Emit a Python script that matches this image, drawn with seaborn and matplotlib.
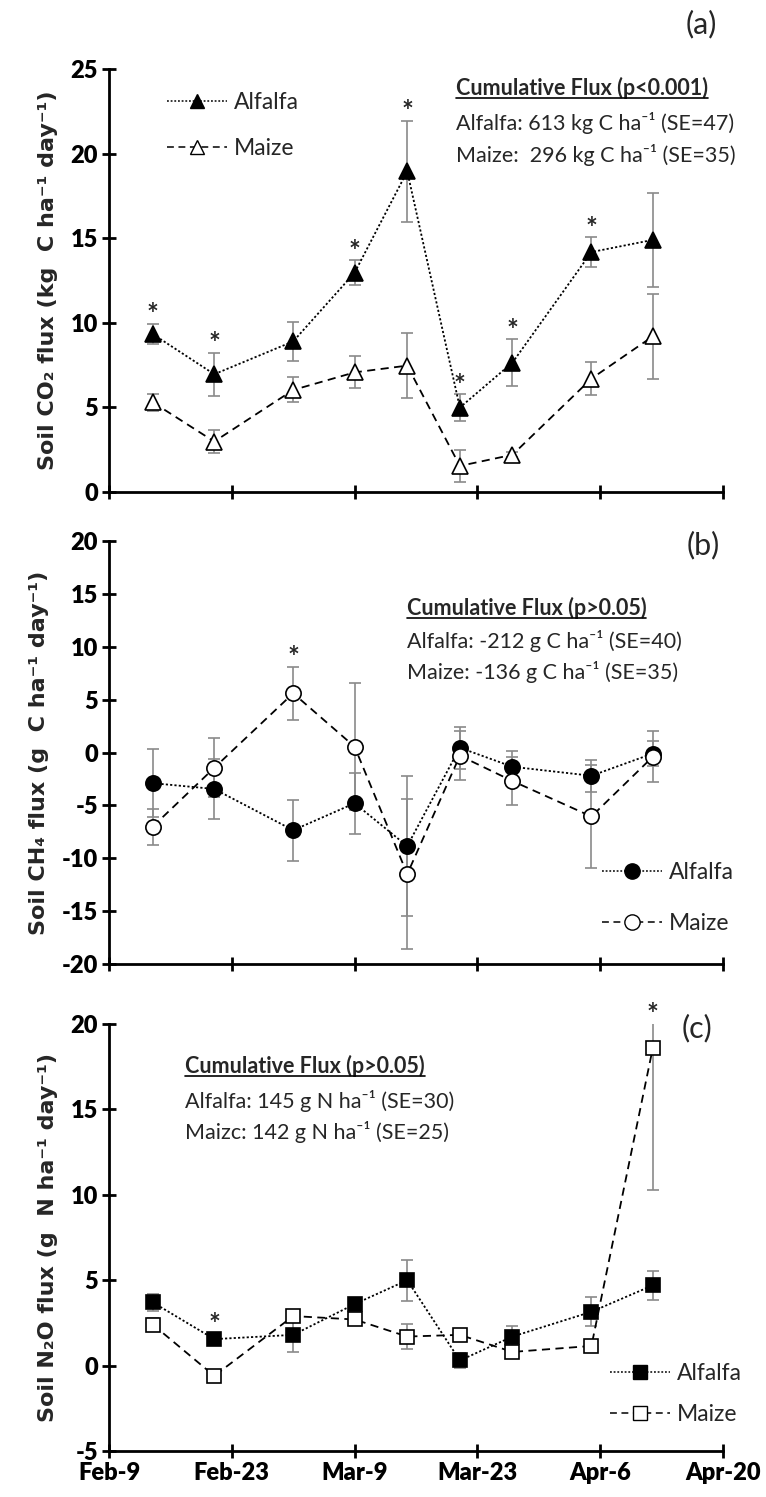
import numpy as np
import pandas as pd
import matplotlib
matplotlib.use("Agg")
import matplotlib.pyplot as plt
import matplotlib.dates as mdates
from matplotlib.lines import Line2D
import seaborn as sns

# Sampling dates (2015 season)
sample_dates = ["2015-02-14", "2015-02-21", "2015-03-02", "2015-03-09", "2015-03-15",
                "2015-03-21", "2015-03-27", "2015-04-05", "2015-04-12"]
axis_ticks = ["2015-02-09", "2015-02-23", "2015-03-09", "2015-03-23", "2015-04-06", "2015-04-20"]

# Soil CO2 flux (kg C ha-1 day-1), mean and SE
co2_alfalfa = [9.33, 6.96, 8.9, 12.96, 18.95, 4.99, 7.65, 14.18, 14.9]
co2_alfalfa_se = [0.6, 1.28, 1.13, 0.74, 2.97, 0.79, 1.38, 0.87, 2.8]
co2_maize = [5.3, 2.98, 6.03, 7.07, 7.47, 1.54, 2.2, 6.7, 9.2]
co2_maize_se = [0.5, 0.69, 0.74, 0.94, 1.9, 0.93, 0.15, 0.96, 2.5]
co2_signif = [0, 1, 3, 4, 5, 6, 7]

# Soil CH4 flux (g C ha-1 day-1)
ch4_alfalfa = [-2.9, -3.45, -7.35, -4.8, -8.85, 0.45, -1.35, -2.2, -0.1]
ch4_alfalfa_se = [3.2, 2.8, 2.9, 2.9, 6.65, 2.0, 1.5, 1.5, 1.2]
ch4_maize = [-7.0, -1.45, 5.6, 0.55, -11.5, -0.3, -2.7, -6.05, -0.4]
ch4_maize_se = [1.7, 2.8, 2.5, 6.0, 7.1, 2.3, 2.3, 4.9, 2.4]
ch4_signif = [2]

# Soil N2O flux (g N ha-1 day-1)
n2o_alfalfa = [3.7, 1.55, 1.8, 3.6, 5.0, 0.3, 1.7, 3.15, 4.7]
n2o_alfalfa_se = [0.5, 0.3, 1.0, 0.3, 1.2, 0.45, 0.6, 0.85, 0.85]
n2o_maize = [2.4, -0.6, 2.9, 2.7, 1.7, 1.8, 0.8, 1.15, 18.6]
n2o_maize_se = [0.4, 0.25, 0.3, 0.3, 0.75, 0.3, 0.2, 0.2, 8.34]
n2o_signif = [1, 8]

panel_text = {
    "a": ["Cumulative Flux (p<0.001)",
          "Alfalfa: 613 kg C ha\u207b\u00b9 (SE=47)",
          "Maize:  296 kg C ha\u207b\u00b9 (SE=35)"],
    "b": ["Cumulative Flux (p>0.05)",
          "Alfalfa: -212 g C ha\u207b\u00b9 (SE=40)",
          "Maize: -136 g C ha\u207b\u00b9 (SE=35)"],
    "c": ["Cumulative Flux (p>0.05)",
          "Alfalfa: 145 g N ha\u207b\u00b9 (SE=30)",
          "Maizc: 142 g N ha\u207b\u00b9 (SE=25)"],
}
ylabels = ["Soil CO\u2082 flux (kg  C ha\u207b\u00b9 day\u207b\u00b9)",
           "Soil CH\u2084 flux (g  C ha\u207b\u00b9 day\u207b\u00b9)",
           "Soil N\u2082O flux (g  N ha\u207b\u00b9 day\u207b\u00b9)"]

sns.set_style("ticks")
plt.rcParams["font.family"] = ["Lato", "DejaVu Sans"]
plt.rcParams["axes.unicode_minus"] = False

dates = pd.to_datetime(sample_dates)
ticks = pd.to_datetime(axis_ticks)

W, H = 766, 1497
fig = plt.figure(figsize=(W / 100, H / 100), dpi=100)

def px_axes(x0, x1, ytop, ybot):
    return fig.add_axes([x0 / W, 1 - ybot / H, (x1 - x0) / W, (ybot - ytop) / H])

ax_a = px_axes(109, 723, 69, 492)
ax_b = px_axes(109, 723, 541, 964)
ax_c = px_axes(109, 723, 1024, 1451)

DOT = (0, (1.2, 1.2))
DASH = (0, (4.5, 3))
ERR = "#8a8a8a"

panels = [
    dict(ax=ax_a, a=co2_alfalfa, ase=co2_alfalfa_se, m=co2_maize, mse=co2_maize_se,
         sig=co2_signif, marker="^", ms=11, ylim=(0, 25), yt=np.arange(0, 26, 5), key="a"),
    dict(ax=ax_b, a=ch4_alfalfa, ase=ch4_alfalfa_se, m=ch4_maize, mse=ch4_maize_se,
         sig=ch4_signif, marker="o", ms=11, ylim=(-20, 20), yt=np.arange(-20, 21, 5), key="b"),
    dict(ax=ax_c, a=n2o_alfalfa, ase=n2o_alfalfa_se, m=n2o_maize, mse=n2o_maize_se,
         sig=n2o_signif, marker="s", ms=10, ylim=(-5, 20), yt=np.arange(-5, 21, 5), key="c"),
]

for p, ylab in zip(panels, ylabels):
    ax = p["ax"]
    for vals, se in ((p["a"], p["ase"]), (p["m"], p["mse"])):
        ax.errorbar(dates, vals, yerr=se, fmt="none", ecolor=ERR, elinewidth=1.2,
                    capsize=4, capthick=1.2, zorder=2)
    sns.lineplot(x=dates, y=p["a"], ax=ax, color="black", linestyle=DOT, lw=1.3,
                 marker=p["marker"], markersize=p["ms"], markerfacecolor="black",
                 markeredgecolor="black", markeredgewidth=1.2, errorbar=None, zorder=3)
    sns.lineplot(x=dates, y=p["m"], ax=ax, color="black", linestyle=DASH, lw=1.3,
                 marker=p["marker"], markersize=p["ms"], markerfacecolor="white",
                 markeredgecolor="black", markeredgewidth=1.2, errorbar=None, zorder=3)

    ax.set_xlim(ticks[0], ticks[-1])
    ax.set_ylim(*p["ylim"])
    ax.set_yticks(p["yt"])
    ax.set_xticks(ticks)
    ax.xaxis.set_major_formatter(mdates.DateFormatter("%b-%-d"))
    ax.tick_params(direction="inout", length=10, width=2, labelsize=17, colors="black", pad=3)
    for lab in ax.get_xticklabels() + ax.get_yticklabels():
        lab.set_fontweight("heavy")
    for side in ("top", "right"):
        ax.spines[side].set_visible(False)
    for side in ("left", "bottom"):
        ax.spines[side].set_linewidth(2)
        ax.spines[side].set_color("black")
    ax.set_ylabel(ylab, fontsize=16, fontweight="bold", family="DejaVu Sans", labelpad=9)
    ax.set_xlabel("")
    ax.grid(False)

    # significance markers above the higher error bar
    top = ax.get_ylim()[1]
    for i in p["sig"]:
        y = max(p["a"][i] + p["ase"][i], p["m"][i] + p["mse"][i])
        y = min(y, top)
        ax.annotate("*", xy=(dates[i], y), xytext=(0, 0.5), textcoords="offset points",
                    ha="center", va="baseline", fontsize=20, fontweight="bold",
                    annotation_clip=False)

ax_a.tick_params(labelbottom=False)
ax_b.tick_params(labelbottom=False)

# legends
def make_legend(ax, marker, ms, anchor, spacing):
    handles = [
        Line2D([], [], color="black", linestyle=DOT, lw=1.1, marker=marker, markersize=ms,
               markerfacecolor="black", markeredgecolor="black"),
        Line2D([], [], color="black", linestyle=DASH, lw=1.1, marker=marker, markersize=ms,
               markerfacecolor="white", markeredgecolor="black"),
    ]
    ax.legend(handles, ["Alfalfa", "Maize"], loc="upper left", bbox_to_anchor=anchor,
              frameon=False, fontsize=16.5, handlelength=2.6, handletextpad=0.3,
              labelspacing=spacing, borderpad=0, borderaxespad=0, numpoints=1)

make_legend(ax_a, "^", 10, (0.0945, 0.945), 1.1)
make_legend(ax_b, "o", 11, (0.803, 0.24), 1.3)
make_legend(ax_c, "s", 10, (0.816, 0.207), 0.9)

# cumulative flux notes and panel letters
notes = {"a": (ax_a, 0.565, [0.955, 0.872, 0.797]),
         "b": (ax_b, 0.485, [0.842, 0.764, 0.690]),
         "c": (ax_c, 0.124, [0.902, 0.820, 0.747])}
headers = []
for key, (ax, x0, ys) in notes.items():
    lines = panel_text[key]
    h = ax.text(x0, ys[0], lines[0], transform=ax.transAxes, fontsize=15.5,
                fontweight="bold", ha="left", va="center")
    headers.append(h)
    for txt, y in zip(lines[1:], ys[1:]):
        ax.text(x0, y, txt, transform=ax.transAxes, fontsize=15.5, ha="left", va="center")

ax_a.text(0.965, 1.105, "(a)", transform=ax_a.transAxes, fontsize=22, ha="center", va="center")
ax_b.text(0.968, 0.99, "(b)", transform=ax_b.transAxes, fontsize=22, ha="center", va="center")
ax_c.text(0.958, 0.99, "(c)", transform=ax_c.transAxes, fontsize=22, ha="center", va="center")

# underline the cumulative-flux headers
fig.canvas.draw()
renderer = fig.canvas.get_renderer()
inv = fig.transFigure.inverted()
for h in headers:
    bb = h.get_window_extent(renderer)
    (x0, y0), (x1, _) = inv.transform([(bb.x0, bb.y0 + 1), (bb.x1, bb.y0 + 1)])
    fig.add_artist(Line2D([x0, x1], [y0, y0], color="black", lw=1.2,
                          transform=fig.transFigure))

fig.savefig("out.png", dpi=100)
